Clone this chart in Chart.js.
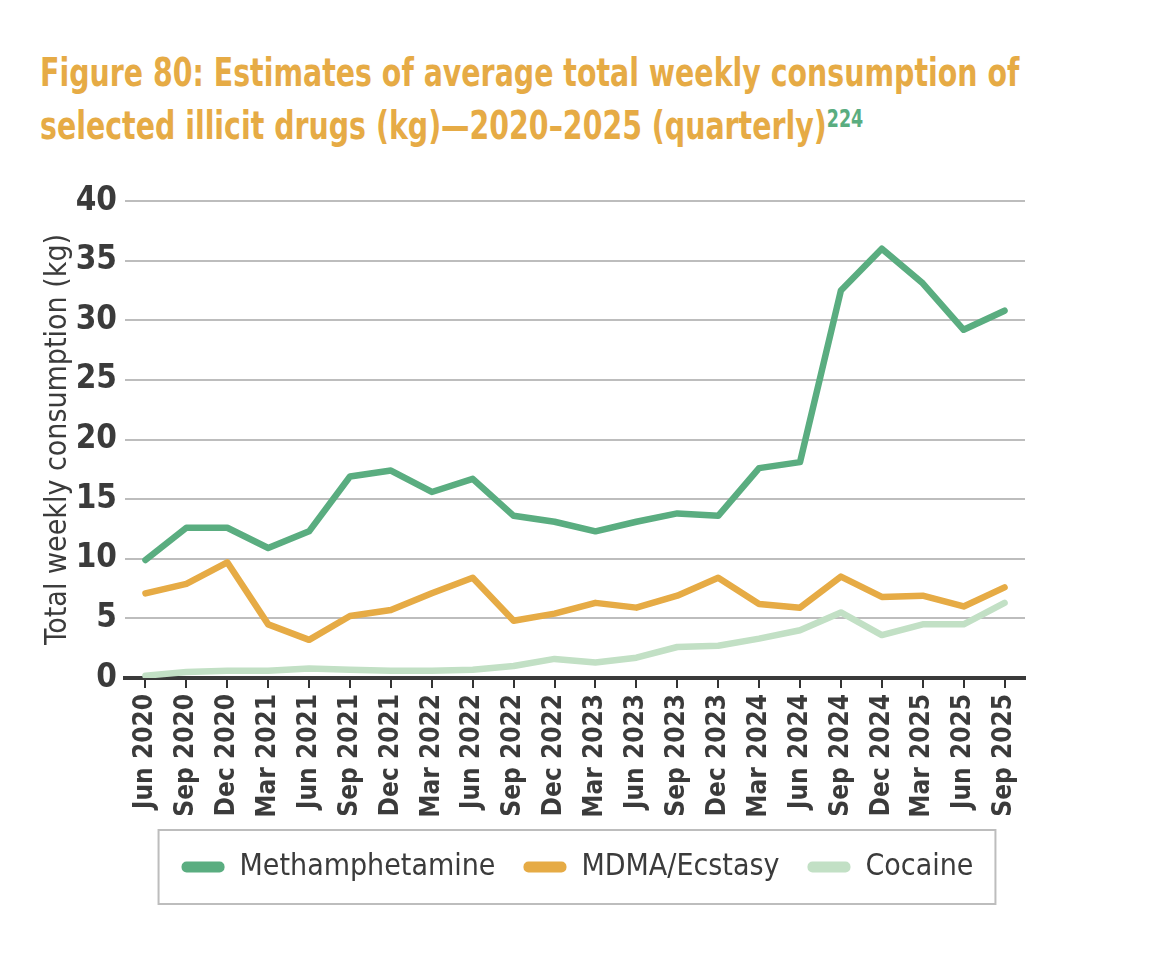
<!DOCTYPE html>
<html>
<head>
<meta charset="utf-8">
<script src="https://cdn.jsdelivr.net/npm/chart.js@4.4.1/dist/chart.umd.min.js"></script>
<style>
  body { margin: 0; background: #fff; width: 1149px; height: 967px; overflow: hidden; position: relative; }
  h1 {
    position: absolute; left: 40px; top: 46px; margin: 0;
    font: bold 39px "Liberation Sans Narrow", "DejaVu Sans Condensed", sans-serif;
    color: #e6ab45; line-height: 53px; white-space: nowrap;
    transform: scaleX(0.81); transform-origin: 0 0;
  }
  h1 sup { color: #5aad80; font-size: 24px; vertical-align: top; position: relative; top: -6px; }
  #wrap { position: absolute; left: 0; top: 170px; width: 1149px; height: 797px; }
</style>
</head>
<body>
<h1>Figure 80: Estimates of average total weekly consumption of<br>selected illicit drugs (kg)—2020–2025 (quarterly)<sup>224</sup></h1>
<div id="wrap"><canvas id="chart"></canvas></div>
<script>
const FONT = '"Liberation Sans Narrow", "DejaVu Sans Condensed", sans-serif';

const quarters = [
  'Jun 2020', 'Sep 2020', 'Dec 2020', 'Mar 2021', 'Jun 2021', 'Sep 2021',
  'Dec 2021', 'Mar 2022', 'Jun 2022', 'Sep 2022', 'Dec 2022', 'Mar 2023',
  'Jun 2023', 'Sep 2023', 'Dec 2023', 'Mar 2024', 'Jun 2024', 'Sep 2024',
  'Dec 2024', 'Mar 2025', 'Jun 2025', 'Sep 2025'
];

// kg per week
const methamphetamine = [9.9, 12.6, 12.6, 10.9, 12.3, 16.9, 17.4, 15.6, 16.7, 13.6, 13.1,
  12.3, 13.1, 13.8, 13.6, 17.6, 18.1, 32.5, 36.0, 33.1, 29.2, 30.8];
const mdma = [7.1, 7.9, 9.7, 4.5, 3.2, 5.2, 5.7, 7.1, 8.4, 4.8, 5.4,
  6.3, 5.9, 6.9, 8.4, 6.2, 5.9, 8.5, 6.8, 6.9, 6.0, 7.6];
const cocaine = [0.2, 0.5, 0.6, 0.6, 0.8, 0.7, 0.6, 0.6, 0.7, 1.0, 1.6,
  1.3, 1.7, 2.6, 2.7, 3.3, 4.0, 5.5, 3.6, 4.5, 4.5, 6.3];

const seriesNames = ['Methamphetamine', 'MDMA/Ecstasy', 'Cocaine'];
const seriesColors = ['#5aad80', '#e6ab45', '#c2e0c5'];

// border round the legend, like the printed figure
const legendBox = {
  id: 'legendBox',
  afterDraw(chart) {
    const hb = chart.legend.legendHitBoxes;
    if (!hb || !hb.length) return;
    const left = Math.min(...hb.map(h => h.left)) - 23;
    const right = Math.max(...hb.map(h => h.left + h.width)) + 22;
    const top = hb[0].top - 22;
    const bottom = hb[0].top + hb[0].height + 22;
    const ctx = chart.ctx;
    ctx.save();
    ctx.strokeStyle = '#bdbdbd';
    ctx.lineWidth = 2;
    ctx.strokeRect(left, top, right - left, bottom - top);
    ctx.restore();
  }
};

new Chart(document.getElementById('chart'), {
  type: 'line',
  data: {
    labels: quarters,
    datasets: [methamphetamine, mdma, cocaine].map((d, i) => ({
      label: seriesNames[i],
      data: d,
      borderColor: seriesColors[i],
      backgroundColor: seriesColors[i],
      borderWidth: 6.5,
      pointRadius: 0,
      tension: 0,
      borderJoinStyle: 'round',
      borderCapStyle: 'round'
    }))
  },
  options: {
    responsive: true,
    maintainAspectRatio: false,
    animation: false,
    layout: { padding: { left: 30, right: 24, top: 31, bottom: 75 } },
    scales: {
      x: {
        offset: true,
        grid: { drawOnChartArea: false, offset: false, color: '#333', lineWidth: 2, tickLength: 10 },
        border: { color: '#3a3a3a', width: 4 },
        ticks: {
          autoSkip: false, minRotation: 90, maxRotation: 90, padding: 6,
          color: '#3b3b3b', font: { family: FONT, size: 26, weight: 'bold' }
        },
        afterFit(s) { s.height = 146; }
      },
      y: {
        min: 0,
        max: 40,
        grid: { color: '#bdbdbd', lineWidth: 2, drawTicks: false },
        border: { display: false },
        ticks: {
          stepSize: 5, padding: 8,
          color: '#3b3b3b', font: { family: FONT, size: 33, weight: 'bold' }
        },
        title: {
          display: true, text: 'Total weekly consumption (kg)', color: '#3b3b3b',
          font: { family: FONT, size: 30 }, padding: { top: 10, bottom: 0 }
        },
        afterFit(s) { s.width = 95; }
      },
      // empty right-hand margin, keeps the legend centred on the page
      spacer: {
        type: 'linear',
        position: 'right',
        grid: { display: false },
        border: { display: false },
        ticks: { display: false },
        afterFit(s) { s.width = 100; }
      }
    },
    plugins: {
      tooltip: { enabled: false },
      legend: {
        position: 'bottom',
        labels: {
          color: '#3b3b3b',
          font: { family: FONT, size: 30 },
          boxWidth: 43,
          boxHeight: 11,
          useBorderRadius: true,
          borderRadius: 5,
          padding: 28,
          generateLabels(chart) {
            return Chart.defaults.plugins.legend.labels.generateLabels(chart)
              .map(l => ({ ...l, lineWidth: 0, strokeStyle: 'transparent' }));
          }
        }
      }
    }
  },
  plugins: [legendBox]
});
</script>
</body>
</html>
